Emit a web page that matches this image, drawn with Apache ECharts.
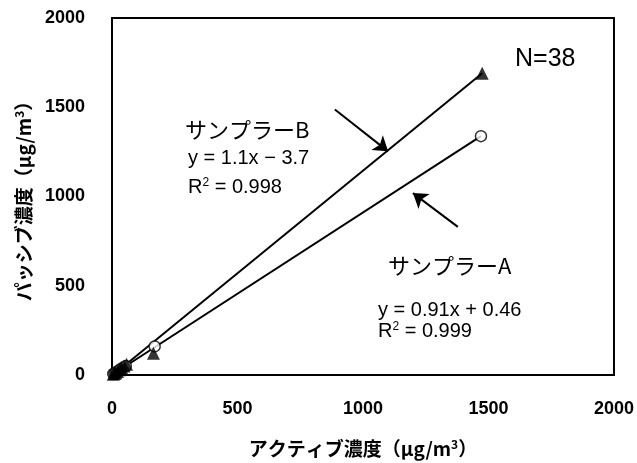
<!DOCTYPE html>
<html><head><meta charset="utf-8">
<script src="https://cdn.jsdelivr.net/npm/echarts@6/dist/echarts.min.js"></script>
<style>html,body{margin:0;padding:0;background:#fff}#c{width:637px;height:463px}</style>
</head><body><div id="c"></div>
<script>
// Data
const samplerA = [[5,6],[10,9],[15,14],[20,18],[28,26],[35,33],[45,42],[55,50],[170,160],[1470,1338]];
const samplerB = [[5,4],[10,8],[15,13],[22,20],[30,30],[38,40],[48,50],[58,60],[165,122],[1475,1690]];
const trendA = [[15,14],[1470,1338]];
const trendB = [[15,13],[1475,1690]];
const arrowB = [[888,1487],[1100,1253]];
const arrowA = [[1378,830],[1199,1019]];
const xTicks = [0,500,1000,1500,2000];
const yTicks = [0,500,1000,1500,2000];

const jp = '"Noto Sans CJK JP", sans-serif';
const num = '"Liberation Sans", Arial, sans-serif';
const chart = echarts.init(document.getElementById('c'));
const arrowLine = (pts) => ({
  silent: true, symbol: ['none','arrow'], symbolSize: 14,
  lineStyle: {color:'#000', width:2, type:'solid'}, itemStyle:{color:'#000'}, label:{show:false},
  data: [[{coord: pts[0]}, {coord: pts[1]}]]
});
const nameRich = {
  a:{fontFamily:jp, fontSize:19, fontWeight:'bold', color:'#000'},
  s:{fontFamily:jp, fontSize:12, fontWeight:'bold', color:'#000', verticalAlign:'top', padding:[0,0,9,0]}
};
const eqRich = {
  a:{fontFamily:num, fontSize:20, color:'#000'},
  s:{fontFamily:num, fontSize:12, color:'#000', verticalAlign:'top', padding:[0,0,9,0]}
};
chart.setOption({
  animation: false,
  backgroundColor: '#fff',
  grid: {left:112, right:22, top:18, bottom:86, show:true, borderColor:'#000', borderWidth:2},
  xAxis: {
    type:'value', min:xTicks[0], max:xTicks[xTicks.length-1], interval:500,
    axisLine:{show:true, lineStyle:{color:'#000', width:2}}, axisTick:{show:false}, splitLine:{show:false},
    axisLabel:{color:'#000', fontFamily:num, fontWeight:'bold', fontSize:18, margin:25, formatter:v=>String(v)},
    name:'{a|アクティブ濃度（μg/m}{s|3}{a|）}', nameLocation:'middle', nameGap:63,
    nameTextStyle:{rich:nameRich}
  },
  yAxis: {
    type:'value', min:yTicks[0], max:yTicks[yTicks.length-1], interval:500,
    axisLine:{show:true, lineStyle:{color:'#000', width:2}}, axisTick:{show:false}, splitLine:{show:false},
    axisLabel:{color:'#000', fontFamily:num, fontWeight:'bold', fontSize:18, margin:27, formatter:v=>String(v)},
    name:'{a|パッシブ濃度（μg/m}{s|3}{a|）}', nameLocation:'middle', nameGap:78, nameRotate:90,
    nameTextStyle:{rich:nameRich}
  },
  series: [
    {type:'line', data:trendA, symbol:'none', lineStyle:{color:'#000', width:2}, silent:true, z:2},
    {type:'line', data:trendB, symbol:'none', lineStyle:{color:'#000', width:2}, silent:true, z:2,
      markLine: arrowLine(arrowB)},
    {type:'line', data:[], markLine: arrowLine(arrowA)},
    {type:'scatter', data:samplerA, symbol:'circle', symbolSize:11,
      itemStyle:{color:'#fff', borderColor:'#000', borderWidth:1.5}, z:3},
    {type:'scatter', data:samplerB, symbol:'triangle', symbolSize:13,
      itemStyle:{color:'#000'}, z:4}
  ],
  graphic: [
    {type:'text', left:185, top:119, style:{text:'サンプラーB', font:'22px "Noto Sans CJK JP"', fill:'#000'}},
    {type:'text', left:188, top:148, style:{text:'y = 1.1x − 3.7', font:'20px "Liberation Sans"', fill:'#000'}},
    {type:'text', left:188, top:177, style:{text:'{a|R}{s|2}{a| = 0.998}', rich:eqRich}},
    {type:'text', left:388, top:255, style:{text:'サンプラーA', font:'22px "Noto Sans CJK JP"', fill:'#000'}},
    {type:'text', left:378, top:300, style:{text:'y = 0.91x + 0.46', font:'20px "Liberation Sans"', fill:'#000'}},
    {type:'text', left:378, top:321, style:{text:'{a|R}{s|2}{a| = 0.999}', rich:eqRich}},
    {type:'text', left:515, top:47, style:{text:'N=38', font:'25px "Liberation Sans"', fill:'#000'}}
  ]
});
</script></body></html>
